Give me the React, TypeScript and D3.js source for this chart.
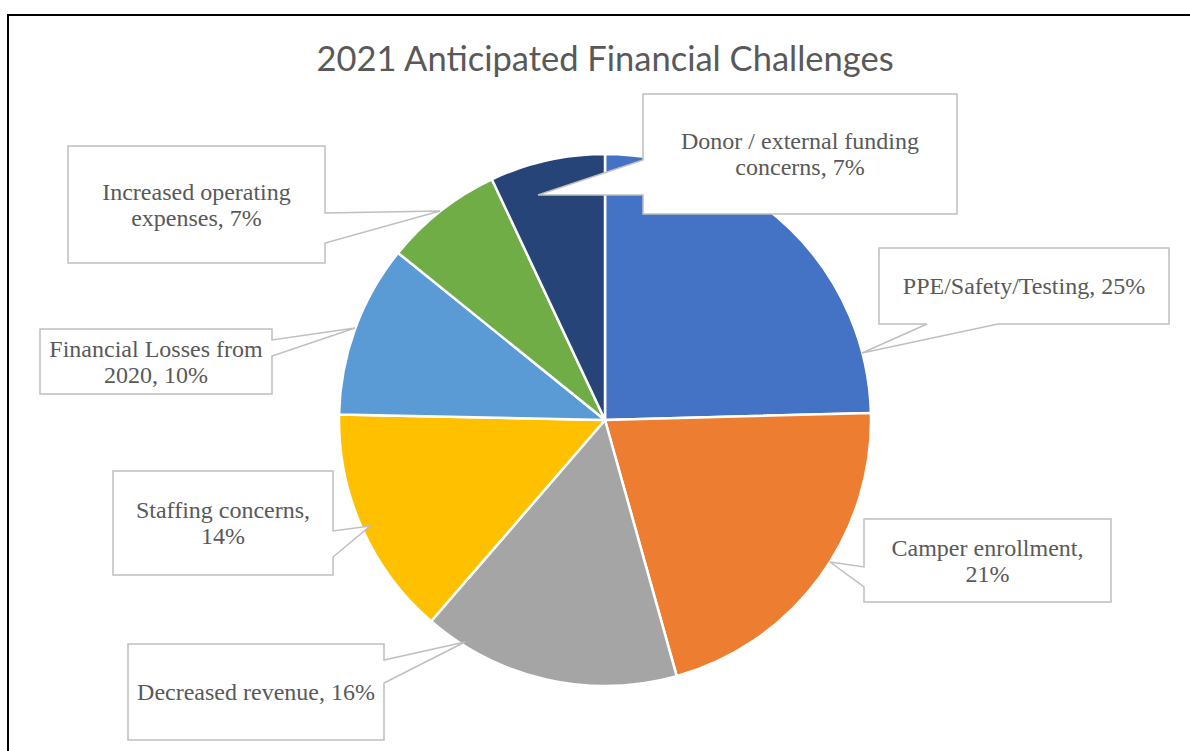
import React from "react";
import * as d3 from "d3";

const categories = [
  "PPE/Safety/Testing",
  "Camper enrollment",
  "Decreased revenue",
  "Staffing concerns",
  "Financial Losses from 2020",
  "Increased operating expenses",
  "Donor / external funding concerns",
];
const values = [24.6, 21.1, 15.7, 14.0, 10.5, 7.2, 7.0];
const labelPercents = ["25%", "21%", "16%", "14%", "10%", "7%", "7%"];
const labelLines = [
  ["PPE/Safety/Testing, 25%"],
  ["Camper enrollment,", "21%"],
  ["Decreased revenue, 16%"],
  ["Staffing concerns,", "14%"],
  ["Financial Losses from", "2020, 10%"],
  ["Increased operating", "expenses, 7%"],
  ["Donor / external funding", "concerns, 7%"],
];
const colors = ["#4472C4", "#ED7D31", "#A5A5A5", "#FFC000", "#5B9BD5", "#70AD47", "#264478"];
const title = "2021 Anticipated Financial Challenges";

// layout of callouts: box, side of pointer, attach positions, tip
type Callout = { x: number; y: number; w: number; h: number; side: string; a1: number; a2: number; tip: [number, number] };
const callouts: Callout[] = [
  { x: 879, y: 248, w: 290, h: 76, side: "bottom", a1: 927, a2: 998, tip: [862, 353] },
  { x: 864, y: 519, w: 247, h: 83, side: "left", a1: 567, a2: 587, tip: [830, 562] },
  { x: 128, y: 644, w: 256, h: 96, side: "right", a1: 660, a2: 683, tip: [465, 642] },
  { x: 113, y: 471, w: 220, h: 104, side: "right", a1: 531, a2: 557, tip: [370, 526] },
  { x: 40, y: 329, w: 232, h: 65, side: "right", a1: 340, a2: 356, tip: [355, 328] },
  { x: 68, y: 146, w: 257, h: 117, side: "right", a1: 213, a2: 243, tip: [440, 211] },
  { x: 643, y: 94, w: 314, h: 120, side: "left", a1: 160, a2: 195, tip: [538, 195] },
];

function calloutPath(c: Callout): string {
  const { x, y, w, h, side, a1, a2, tip } = c;
  const r = x + w, b = y + h;
  const t = `${tip[0]},${tip[1]}`;
  if (side === "left")
    return `M${x},${y}H${r}V${b}H${x}V${a2}L${t}L${x},${a1}Z`;
  if (side === "right")
    return `M${x},${y}H${r}V${a1}L${t}L${r},${a2}V${b}H${x}Z`;
  if (side === "bottom")
    return `M${x},${y}H${r}V${b}H${a2}L${t}L${a1},${b}H${x}Z`;
  return `M${x},${y}H${a1}L${t}L${a2},${y}H${r}V${b}H${x}Z`;
}

export default function App() {
  const W = 1190, H = 751;
  const cx = 605, cy = 420, R = 266;
  const pie = d3.pie<number>().sort(null).value((d) => d);
  const arcs = pie(values);
  const arc = d3.arc<d3.PieArcDatum<number>>().innerRadius(0).outerRadius(R);
  const fs = 24, lh = 26;

  return (
    <svg width={W} height={H} style={{ position: "absolute", left: 0, top: 0, background: "#fff" }}>
      <rect x={0} y={0} width={W} height={H} fill="#fff" />
      <path d={`M8,${H + 5}V15H${W + 5}`} fill="none" stroke="#000" strokeWidth={2} />
      <text x={cx} y={71} textAnchor="middle" fontFamily="Lato, 'Open Sans', sans-serif" fontSize={34.5} fill="#595959">
        {title}
      </text>
      <g transform={`translate(${cx},${cy})`}>
        {arcs.map((a, i) => (
          <path key={categories[i]} d={arc(a) || ""} fill={colors[i]} stroke="#fff" strokeWidth={2.5} strokeLinejoin="round" />
        ))}
      </g>
      {callouts.map((c, i) => {
        const lines = labelLines[i];
        const mx = c.x + c.w / 2;
        const my = c.y + c.h / 2;
        const y0 = my - ((lines.length - 1) * lh) / 2 + 0.34 * fs;
        return (
          <g key={"c" + i} data-pct={labelPercents[i]}>
            <path d={calloutPath(c)} fill="#fff" stroke="#BFBFBF" strokeWidth={1.5} strokeLinejoin="miter" />
            <text textAnchor="middle" fontFamily="'Liberation Serif', 'Times New Roman', serif" fontSize={fs} fill="#595959">
              {lines.map((ln, j) => (
                <tspan key={j} x={mx} y={y0 + j * lh}>{ln}</tspan>
              ))}
            </text>
          </g>
        );
      })}
    </svg>
  );
}
